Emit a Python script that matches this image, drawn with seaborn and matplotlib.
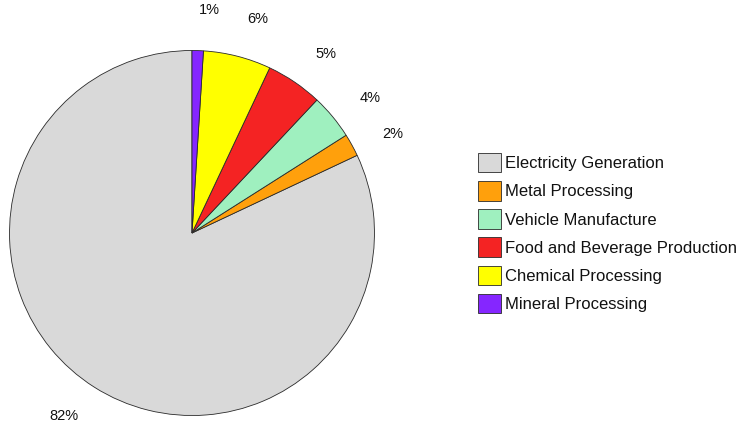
import numpy as np
import matplotlib
matplotlib.use("Agg")
import matplotlib.pyplot as plt
import seaborn as sns

sectors = ["Electricity Generation", "Metal Processing", "Vehicle Manufacture",
           "Food and Beverage Production", "Chemical Processing", "Mineral Processing"]
shares = [82, 2, 4, 5, 6, 1]
colors = ["#d9d9d9", "#ffa00c", "#9ff0bf", "#f42323", "#ffff00", "#8526ff"]

sns.set_theme(style="white")
plt.rcParams["font.family"] = ["Liberation Sans", "DejaVu Sans"]

W, H, DPI = 740, 428, 100
fig = plt.figure(figsize=(W / DPI, H / DPI), dpi=DPI)
ax = fig.add_axes([0, 0, 1, 1])

palette = sns.color_palette(colors)
wedges, texts, autotexts = ax.pie(
    shares, colors=palette, startangle=90, counterclock=True,
    autopct="%1.0f%%", pctdistance=1.225,
    wedgeprops=dict(edgecolor="#2a2a2a", linewidth=0.6),
    textprops=dict(fontsize=10.5, color="#111111"),
)

# nudge percentage labels slightly clockwise around the centre
shift = np.deg2rad(-2.6)
c, s = np.cos(shift), np.sin(shift)
for t in autotexts:
    x, y = t.get_position()
    t.set_position((x * c - y * s, x * s + y * c))

# pixel-exact placement of the pie: centre (192, 233 from top), radius 182.5 px
R, cx, cy = 182.5, 192, H - 233
ax.set_xlim(-cx / R, (W - cx) / R)
ax.set_ylim(-cy / R, (H - cy) / R)
ax.set_aspect("auto")
ax.axis("off")

fig.legend(
    wedges, sectors, loc="center left",
    bbox_to_anchor=(478 / W, 1 - 233 / H),
    frameon=False, fontsize=12, borderpad=0, borderaxespad=0,
    handlelength=1.4, handleheight=1.4, handletextpad=0.25, labelspacing=0.53,
    labelcolor="#111111",
)

fig.savefig("out.png", dpi=DPI)
